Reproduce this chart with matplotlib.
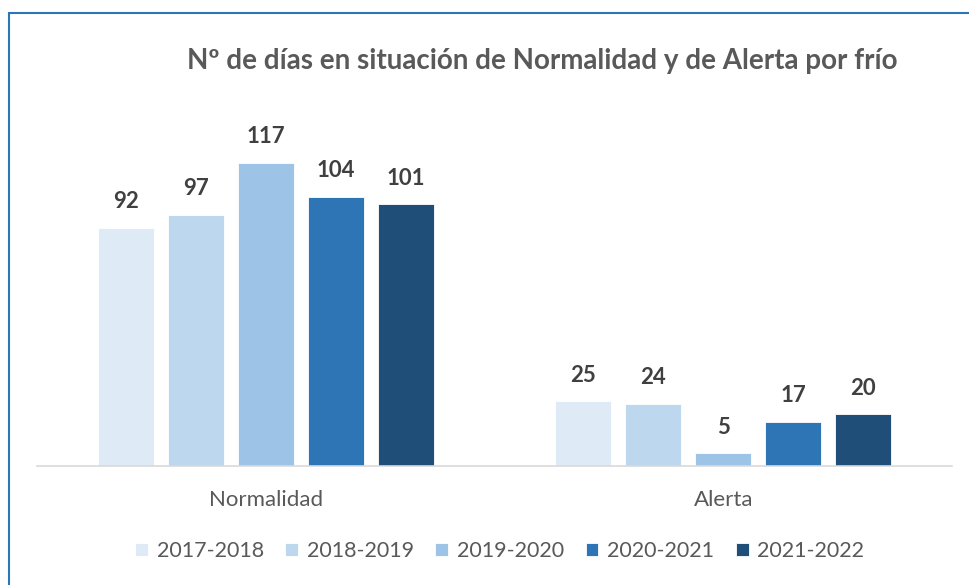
import numpy as np
import matplotlib.pyplot as plt
from matplotlib.patches import Rectangle

# data
categories = ['Normalidad', 'Alerta']
seasons = ['2017-2018', '2018-2019', '2019-2020', '2020-2021', '2021-2022']
dias = [
    [92, 25],
    [97, 24],
    [117, 5],
    [104, 17],
    [101, 20],
]
colores = ['#DEEBF7', '#BDD7EE', '#9DC3E6', '#2E75B6', '#1F4E79']

plt.rcParams['font.family'] = ['Lato', 'DejaVu Sans']

fig = plt.figure(figsize=(9.7, 5.85), dpi=100)
ax = fig.add_axes([0.0381, 0.2034, 0.9433, 0.620])

x = np.arange(len(categories))
width = 0.122
step = 0.153
for i in range(len(seasons)):
    pos = x + (i - 2) * step
    bars = ax.bar(pos, dias[i], width, color=colores[i], edgecolor='white',
                  linewidth=0.6, label=seasons[i])
    for b, v in zip(bars, dias[i]):
        ax.text(b.get_x() + b.get_width() / 2, v + 6.0, str(v), ha='center',
                va='bottom', fontsize=16, fontweight='bold', color='#404040')

ax.set_xlim(-0.5, 1.5)
ax.set_ylim(0, 140)
ax.set_yticks([])
ax.set_xticks(x)
ax.set_xticklabels(categories, fontsize=16, color='#595959')
ax.tick_params(axis='x', length=0, pad=17)
for s in ['top', 'right', 'left']:
    ax.spines[s].set_visible(False)
ax.spines['bottom'].set_color('#D9D9D9')
ax.spines['bottom'].set_linewidth(1.2)

fig.text(0.559, 0.895, 'Nº de días en situación de Normalidad y de Alerta por frío',
         ha='center', va='center', fontsize=20, fontweight='bold', color='#595959')

leg = fig.legend(loc='center', bbox_to_anchor=(0.515, 0.058), ncol=5, frameon=False,
                 fontsize=15.5, handlelength=0.6, handleheight=0.6, handletextpad=0.4,
                 columnspacing=1.0)
for t in leg.get_texts():
    t.set_color('#595959')

# blue frame of the chart object
fig.patches.append(Rectangle((9 / 970, -0.1), 1.2, 1 - 13 / 585 + 0.1,
                             transform=fig.transFigure, fill=False,
                             edgecolor='#2E75B6', linewidth=1.5))

fig.savefig('out.png', dpi=100, facecolor='white')
